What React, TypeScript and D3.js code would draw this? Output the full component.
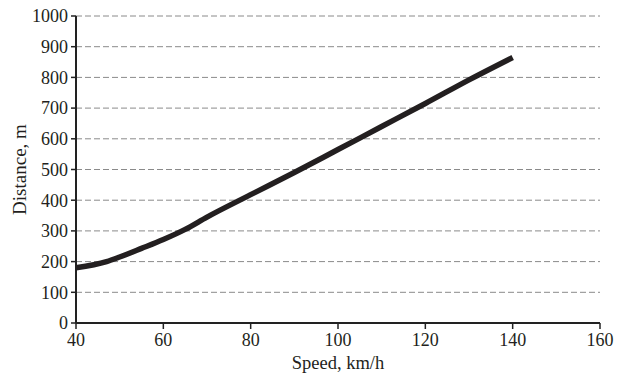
import React from "react";
import * as d3 from "d3";

const speeds = [40, 47, 50, 55, 60, 65, 70, 80, 90, 100, 110, 120, 130, 140];
const distances = [180, 200, 215, 243, 272, 305, 345, 418, 490, 565, 640, 715, 792, 865];
const xTicks = [40, 60, 80, 100, 120, 140, 160];
const yTicks = [0, 100, 200, 300, 400, 500, 600, 700, 800, 900, 1000];

const W = 617;
const H = 377;
const margin = { top: 16, right: 17, bottom: 54, left: 76 };
const font = "'Liberation Serif', 'DejaVu Serif', serif";

export default function App() {
  const x = d3.scaleLinear().domain([40, 160]).range([margin.left, W - margin.right]);
  const y = d3.scaleLinear().domain([0, 1000]).range([H - margin.bottom, margin.top]);

  const line = d3
    .line<number>()
    .x((_, i) => x(speeds[i]))
    .y((d) => y(d))
    .curve(d3.curveMonotoneX);

  const x0 = x(40);
  const y0 = y(0);

  return (
    <svg
      width={W}
      height={H}
      style={{ position: "absolute", left: 0, top: 0, background: "#fff" }}
      fontFamily={font}
    >
      {/* gridlines */}
      {yTicks.filter((t) => t > 0).map((t) => (
        <line
          key={"g" + t}
          x1={x0}
          x2={x(160)}
          y1={y(t)}
          y2={y(t)}
          stroke="#8a8a8a"
          strokeWidth={1}
          strokeDasharray="6,3"
        />
      ))}

      {/* y axis */}
      <line x1={x0} x2={x0} y1={y(1000)} y2={y0} stroke="#222" strokeWidth={2} />
      {yTicks.map((t) => (
        <g key={"y" + t}>
          <line x1={x0 - 5} x2={x0} y1={y(t)} y2={y(t)} stroke="#222" strokeWidth={1.5} />
          <text x={x0 - 8} y={y(t)} dy="0.35em" textAnchor="end" fontSize={18} fill="#231f20">
            {t}
          </text>
        </g>
      ))}

      {/* x axis */}
      <line x1={x0} x2={x(160)} y1={y0} y2={y0} stroke="#222" strokeWidth={2} />
      {xTicks.map((t) => (
        <g key={"x" + t}>
          <line x1={x(t)} x2={x(t)} y1={y0} y2={y0 + 6} stroke="#222" strokeWidth={1.5} />
          <text x={x(t)} y={y0 + 23} textAnchor="middle" fontSize={18} fill="#231f20">
            {t}
          </text>
        </g>
      ))}

      {/* data line */}
      <path d={line(distances) ?? ""} fill="none" stroke="#231f20" strokeWidth={5.5} strokeLinecap="butt" />

      {/* axis labels */}
      <text x={338} y={369} textAnchor="middle" fontSize={18.5} fill="#231f20">
        Speed, km/h
      </text>
      <text
        transform={`translate(26, ${y(500)}) rotate(-90)`}
        textAnchor="middle"
        fontSize={19}
        fill="#231f20"
      >
        Distance, m
      </text>
    </svg>
  );
}
